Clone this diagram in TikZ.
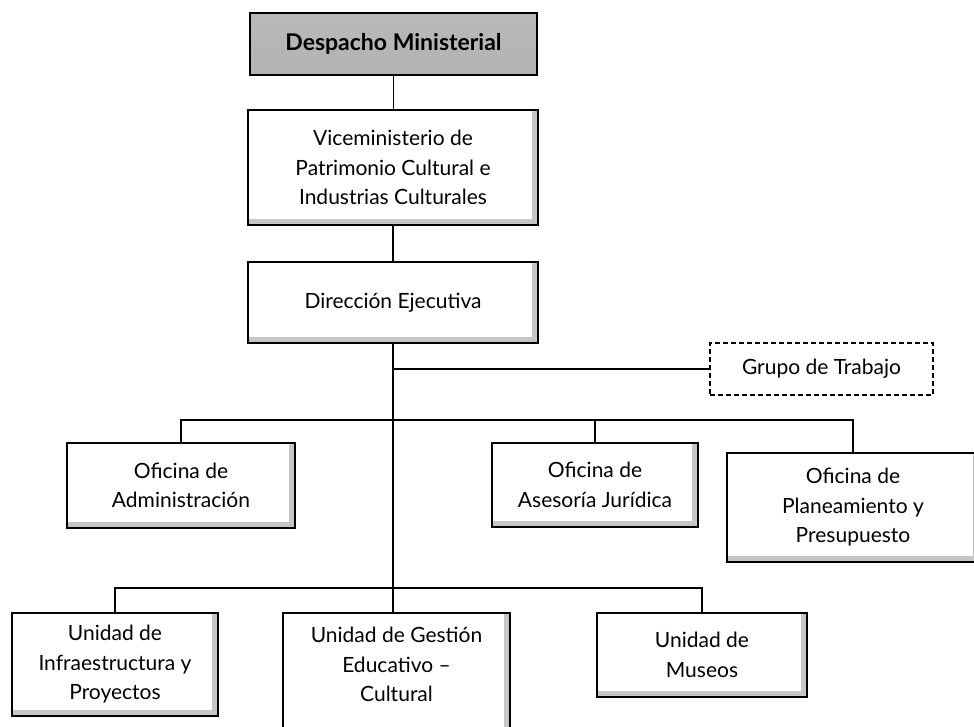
\documentclass[tikz,border=0pt]{standalone}
\usepackage{fontspec}
\setmainfont{Lato}
\begin{document}
\begin{tikzpicture}[x=1pt,y=-1pt,
  txt/.style={font=\fontsize{21}{29.5}\selectfont, align=center},
  box/.style={txt, draw=black, line width=1.8pt, fill=white, inner sep=0pt,
    path picture={
      \fill[gray!45] ([xshift=-6pt]path picture bounding box.north east) rectangle (path picture bounding box.south east);
      \fill[gray!45] ([yshift=6pt]path picture bounding box.south west) rectangle (path picture bounding box.south east);}},
  topbox/.style={txt, draw=black, line width=1.8pt, inner sep=0pt, font=\fontsize{23}{29.5}\selectfont\bfseries,
    shading=axis, top color=gray!55, middle color=gray!28, bottom color=gray!60},
  dashbox/.style={txt, draw=black, line width=1.2pt, dashed, dash pattern=on 5pt off 3pt, fill=white, inner sep=0pt},
  conn/.style={line width=1.2pt}
]
\useasboundingbox (0,0) rectangle (974,727);

\node[topbox, minimum width=287, minimum height=62] (desp) at (393.5,44) {Despacho Ministerial};
\node[box, minimum width=290, minimum height=115] (vice) at (393,167.5)
  {Viceministerio de\\Patrimonio Cultural e\\Industrias Culturales};
\node[box, minimum width=290, minimum height=81] (dir) at (393,302.5) {Dirección Ejecutiva};
\node[dashbox, minimum width=223, minimum height=52] (grupo) at (821.5,369) {Grupo de Trabajo};

\node[box, minimum width=228, minimum height=85] (admin) at (181,485.5) {Oficina de\\Administración};
\node[box, minimum width=206, minimum height=84] (ases) at (595,485) {Oficina de\\Asesoría Jurídica};
\node[box, minimum width=252, minimum height=109] (plan) at (853,507.5) {Oficina de\\Planeamiento y\\Presupuesto};

\node[box, minimum width=206, minimum height=103] (infra) at (115,664.5) {Unidad de\\Infraestructura y\\Proyectos};
\node[box, minimum width=227, minimum height=122] (gest) at (396.5,674) {};
\node[txt] (gesttxt) at (396.5,664.5) {Unidad de Gestión\\Educativo –\\Cultural};
\node[box, minimum width=210, minimum height=84] (mus) at (702,655) {Unidad de\\Museos};

\draw[conn] (desp.south) -- (desp.south |- vice.north);
\draw[conn] (vice.south) -- (vice.south |- dir.north);
\draw[conn] (dir.south) -- (dir.south |- gest.north);
\draw[conn] (dir.south |- grupo.west) -- (grupo.west);
\coordinate (mb) at (393,420);
\draw[conn] (admin.north) |- (mb) -| (plan.north);
\draw[conn] (ases.north) -- (ases.north |- mb);
\coordinate (bb) at (393,588);
\draw[conn] (infra.north) |- (bb) -| (mus.north);
\end{tikzpicture}
\end{document}
